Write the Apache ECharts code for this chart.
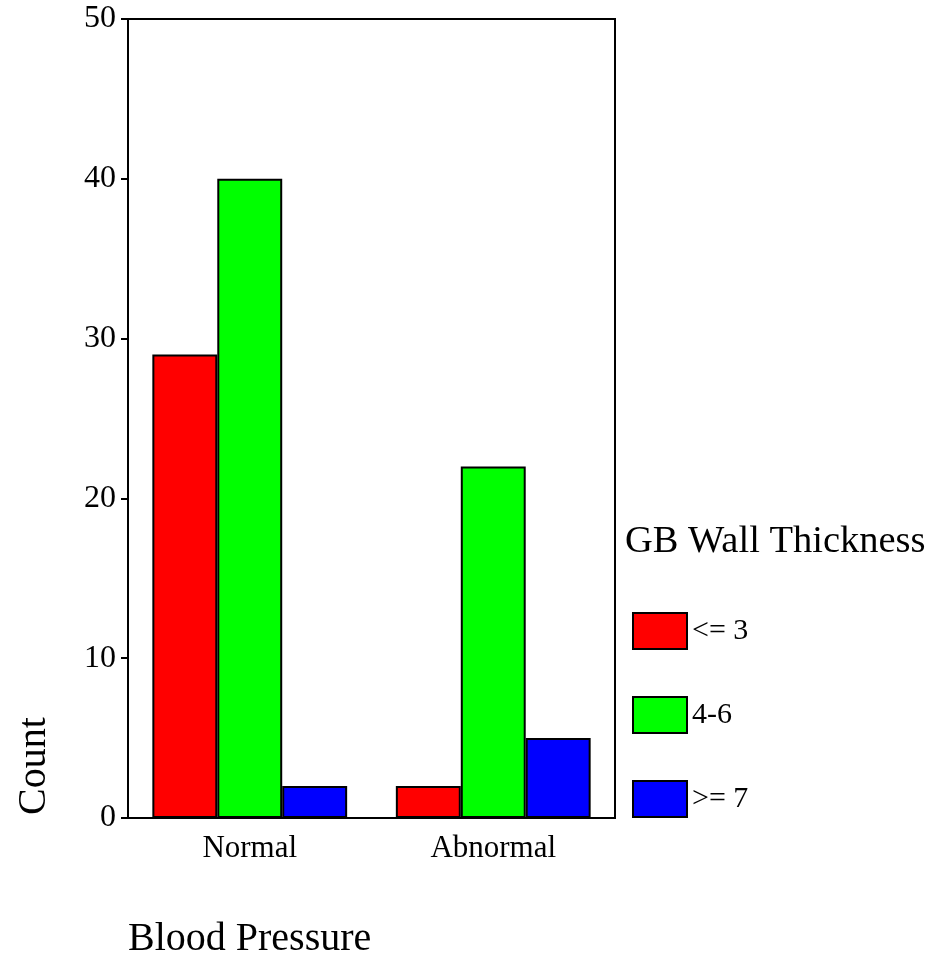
<!DOCTYPE html>
<html>
<head>
<meta charset="utf-8">
<script src="https://cdn.jsdelivr.net/npm/echarts@6/dist/echarts.min.js"></script>
<style>html,body{margin:0;padding:0;background:#fff}#c{width:933px;height:961px}</style>
</head>
<body>
<div id="c"></div>
<script>
const categories = ['Normal', 'Abnormal'];
const seriesNames = ['<= 3', '4-6', '>= 7'];
const lowValues = [29, 2];
const midValues = [40, 22];
const highValues = [2, 5];
const yTicks = { min: 0, max: 50, interval: 10 };

const FONT = 'Liberation Serif';
const colors = ['#ff0000', '#00ff00', '#0000ff'];
const dataSets = [lowValues, midValues, highValues];

const chart = echarts.init(document.getElementById('c'));
chart.setOption({
  animation: false,
  backgroundColor: '#fff',
  grid: { left: 128, right: 318, top: 19, bottom: 143, show: true, borderColor: '#000', borderWidth: 2, backgroundColor: 'transparent' },
  xAxis: {
    type: 'category', data: categories,
    axisLine: { lineStyle: { color: '#000', width: 2 } },
    axisTick: { alignWithLabel: true, length: 8, lineStyle: { color: '#000', width: 2 } },
    axisLabel: { color: '#000', fontFamily: FONT, fontSize: 31, margin: 15 }
  },
  yAxis: {
    type: 'value', min: yTicks.min, max: yTicks.max, interval: yTicks.interval,
    splitLine: { show: false },
    axisLine: { show: true, lineStyle: { color: '#000', width: 2 } },
    axisTick: { show: true, length: 7, lineStyle: { color: '#000', width: 2 } },
    axisLabel: { color: '#000', fontFamily: FONT, fontSize: 32, margin: 12 }
  },
  legend: {
    orient: 'vertical', left: 632, top: 612, padding: 0,
    itemWidth: 54, itemHeight: 36, itemGap: 46, icon: 'rect',
    textStyle: { color: '#000', fontFamily: FONT, fontSize: 30 },
    data: seriesNames
  },
  graphic: [
    { type: 'text', left: 625, top: 522, style: { text: 'GB Wall Thickness', fill: '#000', font: '38.5px "Liberation Serif"' } },
    { type: 'text', x: 14, y: 815, rotation: Math.PI / 2, style: { text: 'Count', fill: '#000', font: '40px "Liberation Serif"' } },
    { type: 'text', left: 128, top: 919, style: { text: 'Blood Pressure', fill: '#000', font: '40px "Liberation Serif"' } }
  ],
  series: seriesNames.map((n, i) => ({
    name: n, type: 'bar', data: dataSets[i],
    barGap: 0, barCategoryGap: '20%',
    itemStyle: { color: colors[i], borderColor: '#000', borderWidth: 2 }
  }))
});
</script>
</body>
</html>
